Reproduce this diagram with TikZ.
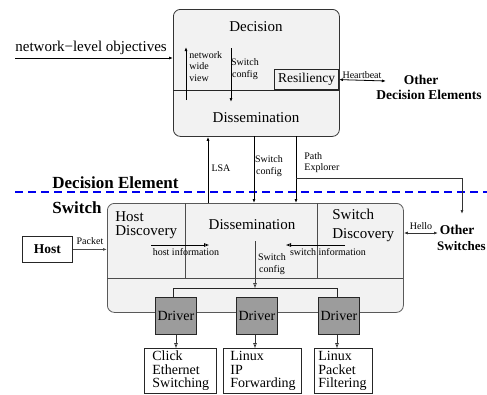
\documentclass[tikz,border=0pt]{standalone}
\usepackage{fontspec}
\setmainfont{Liberation Serif}
\usetikzlibrary{arrows.meta}
\definecolor{panelfill}{HTML}{F2F2F2}
\definecolor{drvfill}{HTML}{9C9C9C}
\definecolor{deline}{HTML}{0000EE}
\begin{document}
\begin{tikzpicture}[x=1pt,y=-1pt, line width=0.8pt,
  fa/.style={-{Latex[length=4pt,width=3pt]}},
  fab/.style={{Latex[length=4pt,width=3pt]}-{Latex[length=4pt,width=3pt]}},
  oa/.style={-{Triangle[open,length=5pt,width=3.5pt]}},
  bigtxt/.style={font=\fontsize{15}{15}\selectfont, inner sep=0pt},
  smalltxt/.style={font=\fontsize{10}{11.5}\selectfont, inner sep=0pt},
  boldtxt/.style={font=\fontsize{13.5}{15}\selectfont\bfseries, inner sep=0pt},
  hugetxt/.style={font=\fontsize{17}{17}\selectfont\bfseries, inner sep=0pt},
  panel/.style={fill=panelfill, rounded corners=7pt, inner sep=0pt, anchor=north west},
  drv/.style={draw=black!85, fill=drvfill, minimum width=41pt, minimum height=37pt, inner sep=0pt, anchor=north west, font=\fontsize{14}{14}\selectfont},
  plat/.style={draw=black!85, fill=white, anchor=north west, align=left, minimum height=45pt, font=\fontsize{14}{13.5}\selectfont, inner ysep=0pt},
  divline/.style={draw=black!70}
]
\useasboundingbox (0,0) rectangle (487,394);

% ---------------- Decision element ----------------
\node[panel, draw=black!80, minimum width=166pt, minimum height=127pt] (dec) at (173,9) {};
\coordinate (dl) at (173,90);
\coordinate (dr) at (339,90);
\draw[black!85] (dl) -- (dr);
\node[draw=black!85, anchor=south east, minimum width=64pt, minimum height=20pt, inner sep=0pt, font=\fontsize{13.5}{14}\selectfont] (res) at (339,90) {Resiliency};
\node[bigtxt] (dectxt) at (256,27) {Decision};
\node[bigtxt] (dectxt2) at (256,118) {Dissemination};

\node[smalltxt, align=left, anchor=north west] (nwv) at (189,51) {network\\wide\\view};
\coordinate (nwvb) at (186,100);
\coordinate (nwvt) at (186,47);
\draw[fa] (nwvb) -- (nwvt);
\node[smalltxt, align=center] (sc1) at (245,69) {Switch\\config};
\coordinate (sct) at (231,48);
\coordinate (scb) at (231,102);
\draw[fa] (sct) -- (scb);

\node[font=\fontsize{15}{15}\selectfont, anchor=south west, inner sep=0pt] (obj) at (15,55) {network−level objectives};
\coordinate (objs) at (15,58);
\draw[fa] (objs) -- (objs -| dec.west);

\coordinate (hbend) at (386,81);
\draw[fab] (res.east) -- (hbend);
\node[smalltxt] (hb) at (362,75) {Heartbeat};
\node[boldtxt] (ode1) at (421,80) {Other};
\node[boldtxt] (ode2) at (429,95) {Decision Elements};

% ---------------- Separator ----------------
\coordinate (sepl) at (15,192);
\coordinate (sepr) at (487,192);
\draw[deline, line width=1.2pt, dash pattern=on 8pt off 5pt] (sepl) -- (sepr);
\node[hugetxt, anchor=base west] (detxt) at (52,188) {Decision Element};
\node[hugetxt, anchor=base west] (swtxt) at (52,213) {Switch};

% ---------------- Switch ----------------
\node[panel, draw=black!65, minimum width=296pt, minimum height=109pt] (sw) at (107,203) {};
\coordinate (sl) at (107,278);
\coordinate (sr) at (403,278);
\draw[divline] (sl) -- (sr);
\coordinate (v1t) at (185,203);
\coordinate (v1b) at (185,278);
\coordinate (v2t) at (317,203);
\coordinate (v2b) at (317,278);
\draw[divline] (v1t) -- (v1b);
\draw[divline] (v2t) -- (v2b);

\node[bigtxt, align=left, anchor=north west, font=\fontsize{15}{14.5}\selectfont] (hd) at (115,211) {Host\\Discovery};
\node[bigtxt] (sdis) at (252,225) {Dissemination};
\node[bigtxt, align=left, anchor=north west, font=\fontsize{15}{19}\selectfont] (sd) at (332,209) {Switch\\Discovery};

\coordinate (hi1) at (151,245);
\coordinate (hi2) at (209,245);
\draw[oa] (hi1) -- (hi2);
\node[smalltxt] (hitxt) at (186,252) {host information};
\coordinate (si1) at (345,245);
\coordinate (si2) at (286,245);
\draw[oa] (si1) -- (si2);
\node[smalltxt] (sitxt) at (328,252) {switch information};

\coordinate (isc1) at (255,241);
\coordinate (isc2) at (255,288);
\draw[oa, black!75] (isc1) -- (isc2);
\node[smalltxt, align=center] (isctxt) at (272,264) {Switch\\config};

% ---------------- Drivers ----------------
\node[drv] (d1) at (155,297) {Driver};
\node[drv] (d2) at (236,297) {Driver};
\node[drv] (d3) at (318,297) {Driver};
\coordinate (bus1) at (173,288);
\coordinate (bus3) at (337,288);
\draw[black!85] (d1.north -| bus1) -- (bus1) -- (bus3) -- (d3.north -| bus3);

\node[plat, minimum width=67pt, text width=56pt, inner xsep=8pt] (p1) at (144,348) {Click\\Ethernet\\Switching};
\node[plat, minimum width=75pt, text width=64pt, inner xsep=7pt] (p2) at (223,348) {Linux\\IP\\Forwarding};
\node[plat, minimum width=56pt, text width=50pt, inner xsep=4pt] (p3) at (314,348) {Linux\\Packet\\Filtering};
\draw[oa, black!80] (d1.south -| 176,0) -- (p1.north -| 176,0);
\draw[oa, black!80] (d2.south -| 255,0) -- (p2.north -| 255,0);
\draw[oa, black!80] (d3.south -| 337,0) -- (p3.north -| 337,0);

% ---------------- Between layers ----------------
\coordinate (lsa) at (208,203);
\draw[fa] (lsa) -- (lsa |- dec.south);
\node[smalltxt] (lsatxt) at (221,168) {LSA};
\coordinate (scx) at (254,136);
\draw[fa] (scx) -- (scx |- sw.north);
\node[smalltxt, align=center] (sc2) at (269,166) {Switch\\config};
\coordinate (pex) at (296,136);
\draw[fa] (pex) -- (pex |- sw.north);
\node[smalltxt, align=left, anchor=north west] (petxt) at (304,152) {Path\\Explorer};
\coordinate (pe1) at (296,178);
\coordinate (pe2) at (462,178);
\coordinate (pe3) at (462,214);
\draw[fa, black!80] (pe1) -- (pe2) -- (pe3);

% ---------------- Host and others ----------------
\node[draw=black!85, minimum width=50pt, minimum height=26pt, inner sep=0pt, anchor=north west, font=\fontsize{13.5}{14}\selectfont\bfseries] (host) at (22,236) {Host};
\draw[fa, black!70] (host.east) -- (host.east -| sw.west);
\node[smalltxt] (pkt) at (90,241) {Packet};

\coordinate (hel) at (438,233);
\draw[fab, black!80] (sw.east |- hel) -- (hel);
\node[smalltxt] (heltxt) at (421,226) {Hello};
\node[boldtxt] (os1) at (457,230) {Other};
\node[boldtxt, anchor=east, font=\fontsize{13}{15}\selectfont\bfseries] (os2) at (486,246) {Switches};
\end{tikzpicture}
\end{document}
